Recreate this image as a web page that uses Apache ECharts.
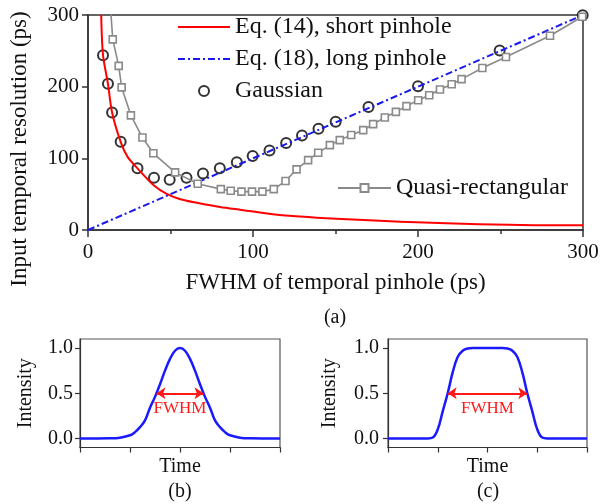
<!DOCTYPE html>
<html><head><meta charset="utf-8">
<script src="https://cdn.jsdelivr.net/npm/echarts@6/dist/echarts.min.js"></script>
<style>html,body{margin:0;padding:0;background:#fff}#c{width:602px;height:504px}</style>
</head><body><div id="c"></div>
<script>
const FONT = 'Liberation Serif';
// Panel (a) data
const eq14X = [8, 9.1, 12.1, 14.6, 19.8, 24, 30, 40, 48, 56, 66, 80, 93, 116, 157, 217, 284, 300];
const eq14Y = [300, 244, 204, 164, 123, 102, 86, 62, 50, 43, 38, 32, 28, 21, 15, 9.3, 6.5, 6.5];
const eq18X = [0, 300];
const eq18Y = [0, 300];
const gaussX = [9.1, 12.1, 14.6, 19.8, 30, 40, 49.5, 59.7, 69.7, 79.9, 90.2, 99.8, 110, 120.1, 129.7, 139.7, 150.1, 170, 200, 249.5, 299.8];
const gaussY = [244, 204, 164, 123, 86, 73, 70, 73, 79, 86, 94.5, 103.3, 111, 121.3, 131.7, 141.3, 151, 171.5, 200.6, 250.5, 299.6];
const quasiX = [13.8, 15, 18.6, 20.4, 26, 33, 39.6, 52.8, 66.5, 80.5, 86.5, 93, 99.4, 105.7, 112.6, 119.7, 126.4, 133.4, 139.5, 146.6, 152.6, 159.5, 166.8, 172.8, 179.9, 186.6, 193, 200.1, 206.8, 213.3, 220.4, 226.4, 239, 253.3, 280, 299.5];
const quasiY = [305, 266, 229, 199, 160, 129, 107, 80.4, 64.5, 57, 54.8, 53.5, 53.5, 53.5, 57, 68.3, 84.6, 97.5, 107.7, 118.4, 125.4, 132.5, 139.3, 147.7, 157, 164.8, 172.8, 181.1, 188, 196, 203.4, 210.5, 226, 241.5, 271, 297.5];
const xTicksA = [0, 100, 200, 300];
const yTicksA = [0, 100, 200, 300];
// Panel (b) Gaussian pulse
const tB = [0, 0.6, 0.8, 1.0, 1.1, 1.2, 1.3, 1.4, 1.5, 1.6, 1.7, 1.8, 1.9, 2.0, 2.1, 2.2, 2.3, 2.4, 2.5, 2.6, 2.7, 2.8, 2.9, 3.0, 3.2, 3.4, 4.0];
const iB = [0, 0.002, 0.009, 0.035, 0.07, 0.125, 0.2, 0.34, 0.46, 0.6, 0.75, 0.88, 0.97, 1.0, 0.97, 0.88, 0.75, 0.6, 0.46, 0.34, 0.2, 0.125, 0.07, 0.035, 0.009, 0.002, 0];
const fwhmB = [1.53, 2.47];
// Panel (c) quasi-rectangular pulse
const tC = [0, 0.8, 0.9, 1.0, 1.1, 1.2, 1.3, 1.4, 1.5, 1.6, 1.7, 2.0, 2.3, 2.4, 2.5, 2.6, 2.7, 2.8, 2.9, 3.0, 3.1, 3.2, 4.0];
const iC = [0, 0, 0.01, 0.1, 0.3, 0.5, 0.73, 0.9, 0.97, 0.995, 1, 1, 1, 0.995, 0.97, 0.9, 0.73, 0.5, 0.3, 0.1, 0.01, 0, 0];
const fwhmC = [1.2, 2.8];
const yTicksSmall = [0, 0.5, 1.0];

const zip = (a, b) => a.map((v, i) => [v, b[i]]);
const txt = '#111', ax = '#333';

function smallX(gi) {
  return {
    gridIndex: gi, type: 'value', min: 0, max: 4, interval: 1,
    axisLine: {show: true, onZero: false, lineStyle: {color: ax, width: 1.2}},
    axisTick: {show: true, length: 5, lineStyle: {color: ax, width: 1.2}},
    axisLabel: {show: false}, splitLine: {show: false},
    name: 'Time', nameLocation: 'middle', nameGap: 9,
    nameTextStyle: {fontFamily: FONT, fontSize: 20, color: txt}
  };
}
function smallY(gi, margin, gap) {
  return {
    gridIndex: gi, type: 'value', min: -0.1, max: 1.1,
    axisLine: {show: true, onZero: false, lineStyle: {color: ax, width: 1.2}},
    axisTick: {show: true, length: 5, customValues: yTicksSmall, lineStyle: {color: ax, width: 1.2}},
    axisLabel: {customValues: yTicksSmall, formatter: v => v.toFixed(1), fontFamily: FONT, fontSize: 20, color: txt, margin: margin},
    splitLine: {show: false},
    name: 'Intensity', nameLocation: 'middle', nameGap: gap,
    nameTextStyle: {fontFamily: FONT, fontSize: 20, color: txt}
  };
}
function arrowLine(a, b) {
  return {
    silent: true, symbol: ['arrow', 'arrow'], symbolSize: [9, 9],
    lineStyle: {color: '#ff1a1a', width: 2, type: 'solid'},
    label: {show: true, formatter: 'FWHM', position: 'insideMiddleBottom', color: '#ff1a1a', fontFamily: FONT, fontSize: 17, distance: 7},
    data: [[{coord: [a, 0.5]}, {coord: [b, 0.5]}]]
  };
}
const noSym = {color: 'transparent', borderColor: 'transparent', opacity: 0};

const chart = echarts.init(document.getElementById('c'), null, {renderer: 'canvas'});
chart.setOption({
  animation: false,
  backgroundColor: '#fff',
  grid: [
    {left: 88, top: 15, width: 495, height: 215, show: true, borderColor: ax, borderWidth: 1.5, backgroundColor: 'transparent'},
    {left: 80, top: 339, width: 200, height: 108.5, show: true, borderColor: '#555', borderWidth: 1.2, backgroundColor: 'transparent'},
    {left: 388, top: 339, width: 199, height: 108.5, show: true, borderColor: '#555', borderWidth: 1.2, backgroundColor: 'transparent'}
  ],
  xAxis: [
    {
      gridIndex: 0, type: 'value', min: xTicksA[0], max: xTicksA[xTicksA.length - 1], interval: 100,
      axisLine: {show: true, lineStyle: {color: ax, width: 1.5}},
      axisTick: {show: true, length: 7, lineStyle: {color: ax, width: 1.5}},
      minorTick: {show: true, splitNumber: 2, length: 4, lineStyle: {color: ax, width: 1.5}},
      axisLabel: {fontFamily: FONT, fontSize: 21, color: txt, margin: 12},
      splitLine: {show: false}, minorSplitLine: {show: false},
      name: 'FWHM of temporal pinhole (ps)', nameLocation: 'middle', nameGap: 41,
      nameTextStyle: {fontFamily: FONT, fontSize: 23, color: txt}
    },
    smallX(1), smallX(2)
  ],
  yAxis: [
    {
      gridIndex: 0, type: 'value', min: yTicksA[0], max: yTicksA[yTicksA.length - 1], interval: 100,
      axisLine: {show: true, lineStyle: {color: ax, width: 1.5}},
      axisTick: {show: true, length: 6, lineStyle: {color: ax, width: 1.5}},
      axisLabel: {fontFamily: FONT, fontSize: 21, color: txt, margin: 9},
      splitLine: {show: false}
    },
    smallY(1, 7, 44), smallY(2, 9, 48)
  ],
  legend: [
    {
      left: 177, top: 15, orient: 'vertical', padding: 0, itemGap: 8,
      itemWidth: 52, itemHeight: 10,
      textStyle: {fontFamily: FONT, fontSize: 24, color: txt},
      data: [
        {name: 'Eq. (14), short pinhole', itemStyle: noSym},
        {name: 'Eq. (18), long pinhole', itemStyle: noSym},
        'Gaussian'
      ]
    },
    {
      left: 337, top: 176, orient: 'vertical', padding: 0,
      itemWidth: 53, itemHeight: 10,
      textStyle: {fontFamily: FONT, fontSize: 24, color: txt},
      data: ['Quasi-rectangular']
    }
  ],
  series: [
    {
      name: 'Eq. (14), short pinhole', type: 'line', xAxisIndex: 0, yAxisIndex: 0,
      data: zip(eq14X, eq14Y), symbol: 'none', smooth: 0.3, clip: true,
      color: '#ff0000', lineStyle: {color: '#ff0000', width: 2}
    },
    {
      name: 'Eq. (18), long pinhole', type: 'line', xAxisIndex: 0, yAxisIndex: 0,
      data: zip(eq18X, eq18Y), symbol: 'none',
      color: '#1a1aee', lineStyle: {color: '#1a1aee', width: 2, type: [7, 3, 2, 3]}
    },
    {
      name: 'Quasi-rectangular', type: 'line', xAxisIndex: 0, yAxisIndex: 0,
      data: zip(quasiX, quasiY), symbol: 'rect', symbolSize: 7, showAllSymbol: true, clip: true,
      color: '#8a8a8a', lineStyle: {color: '#8a8a8a', width: 1.6},
      itemStyle: {color: '#fff', borderColor: '#8a8a8a', borderWidth: 1.6}
    },
    {
      name: 'Gaussian', type: 'scatter', xAxisIndex: 0, yAxisIndex: 0,
      data: zip(gaussX, gaussY), symbol: 'emptyCircle', symbolSize: 10,
      color: '#000', itemStyle: {color: '#000', borderColor: '#000', borderWidth: 2}
    },
    {
      type: 'line', xAxisIndex: 1, yAxisIndex: 1, data: zip(tB, iB), symbol: 'none', smooth: 0.4,
      lineStyle: {color: '#1a1aff', width: 2.5}, markLine: arrowLine(fwhmB[0], fwhmB[1])
    },
    {
      type: 'line', xAxisIndex: 2, yAxisIndex: 2, data: zip(tC, iC), symbol: 'none', smooth: 0.4,
      lineStyle: {color: '#1a1aff', width: 2.5}, markLine: arrowLine(fwhmC[0], fwhmC[1])
    }
  ],
  graphic: [
    {type: 'text', x: 20, y: 149, rotation: Math.PI / 2,
     style: {text: 'Input temporal resolution (ps)', font: '23px "Liberation Serif"', fill: txt, align: 'center', verticalAlign: 'middle'}},
    {type: 'text', x: 335, y: 318, style: {text: '(a)', font: '20px "Liberation Serif"', fill: txt, align: 'center', verticalAlign: 'middle'}},
    {type: 'text', x: 180, y: 492, style: {text: '(b)', font: '20px "Liberation Serif"', fill: txt, align: 'center', verticalAlign: 'middle'}},
    {type: 'text', x: 488, y: 492, style: {text: '(c)', font: '20px "Liberation Serif"', fill: txt, align: 'center', verticalAlign: 'middle'}}
  ]
});
</script>
</body></html>
